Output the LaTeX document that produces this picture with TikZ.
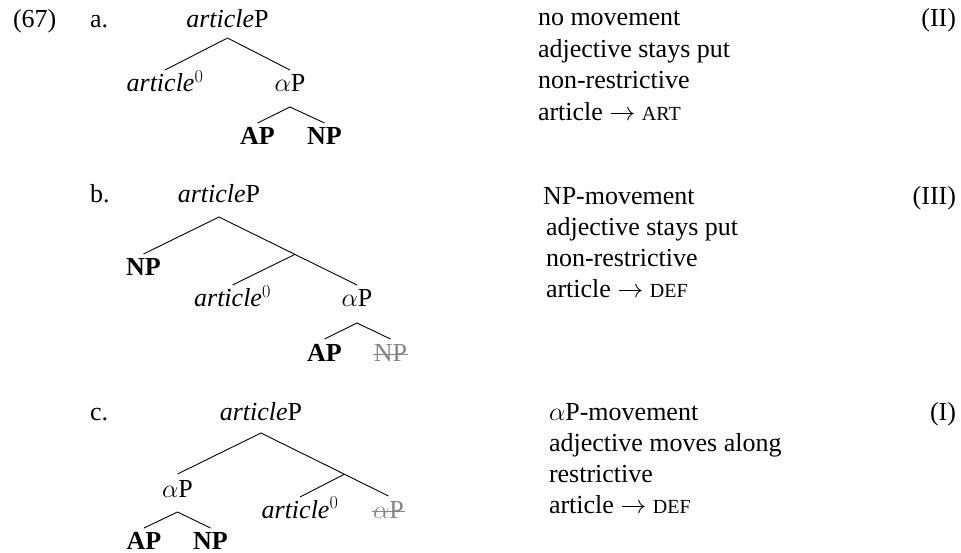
\RequirePackage{fix-cm}
\documentclass[tikz,border=0pt]{standalone}
\usepackage{fontspec}
\setmainfont{Liberation Serif}
\usetikzlibrary{calc}
\newcommand{\fsc}[1]{{\fontsize{20}{20}\selectfont #1}}
\newcommand{\artzero}{\textit{article}$^{0}$}
\newcommand{\artP}{\textit{article}P}
\tikzset{
  txt/.style={inner sep=0pt, outer sep=0pt, anchor=base west, font=\fontsize{26}{31}\selectfont},
  lab/.style={txt, anchor=base},
  gone/.style={lab, text=black!48},
  br/.style={line width=0.9pt},
  strike/.style={line width=0.9pt, draw=black!48}
}
\begin{document}
\begin{tikzpicture}[x=1pt,y=-1pt]
\useasboundingbox (0,0) rectangle (961,553);

% ---------- labels ----------
\node[txt] (ex) at (13,28) {(67)};
\node[txt] (la) at (90,28) {a.};
\node[txt] (lb) at (90,203) {b.};
\node[txt] (lc) at (90,420) {c.};

% ---------- tree a ----------
\node[lab] (aTop) at (227.5,28) {\artP};
\node[lab] (aArt) at (165,92) {\artzero};
\node[lab] (aAlpha) at (290,92) {$\alpha$P};
\node[lab,font=\fontsize{26}{31}\selectfont\bfseries] (aAP) at (257.5,145) {AP};
\node[lab,font=\fontsize{26}{31}\selectfont\bfseries] (aNP) at (324.5,145) {NP};
\draw[br] ([yshift=-10pt]aTop.base) -- ([yshift=22pt]aArt.base);
\draw[br] ([yshift=-10pt]aTop.base) -- ([yshift=22pt]aAlpha.base);
\draw[br] ([yshift=-15pt]aAlpha.base) -- ([yshift=22pt]aAP.base);
\draw[br] ([yshift=-15pt]aAlpha.base) -- ([yshift=22pt]aNP.base);

% ---------- tree b ----------
\node[lab] (bTop) at (219,203) {\artP};
\node[lab,font=\fontsize{26}{31}\selectfont\bfseries] (bNP) at (143.5,276) {NP};
\node[lab] (bArt) at (232.5,307) {\artzero};
\node[lab] (bAlpha) at (357,307) {$\alpha$P};
\node[lab,font=\fontsize{26}{31}\selectfont\bfseries] (bAP) at (324.5,361) {AP};
\node[gone] (bNPg) at (390.5,361) {NP};
\draw[strike] ([yshift=7pt,xshift=-1pt]bNPg.base west) -- ([yshift=7pt,xshift=1pt]bNPg.base east);
\coordinate (bT) at ([yshift=-14pt]bTop.base);
\coordinate (bR) at ([yshift=22pt]bAlpha.base);
\coordinate (bJ) at ($(bT)!0.55!(bR)$);
\draw[br] (bT) -- ([yshift=22pt]bNP.base);
\draw[br] (bT) -- (bR);
\draw[br] (bJ) -- ([yshift=22pt]bArt.base);
\draw[br] ([yshift=-16pt]bAlpha.base) -- ([yshift=22pt]bAP.base);
\draw[br] ([yshift=-16pt]bAlpha.base) -- ([yshift=22pt]bNPg.base);

% ---------- tree c ----------
\node[lab] (cTop) at (261,420) {\artP};
\node[lab] (cAlpha) at (177.5,497) {$\alpha$P};
\node[lab] (cArt) at (300,518) {\artzero};
\node[gone] (cAlphag) at (388.5,518) {$\alpha$P};
\draw[strike] ([yshift=6.5pt,xshift=-1pt]cAlphag.base west) -- ([yshift=6.5pt,xshift=1pt]cAlphag.base east);
\node[lab,font=\fontsize{26}{31}\selectfont\bfseries] (cAP) at (144,549) {AP};
\node[lab,font=\fontsize{26}{31}\selectfont\bfseries] (cNP) at (210.5,549) {NP};
\coordinate (cT) at ([yshift=-13pt]cTop.base);
\coordinate (cR) at ([yshift=22pt]cAlphag.base);
\coordinate (cJ) at ($(cT)!0.654!(cR)$);
\draw[br] (cT) -- ([yshift=23pt]cAlpha.base);
\draw[br] (cT) -- (cR);
\draw[br] (cJ) -- ([yshift=21pt]cArt.base);
\draw[br] ([yshift=-15pt]cAlpha.base) -- ([yshift=21pt]cAP.base);
\draw[br] ([yshift=-15pt]cAlpha.base) -- ([yshift=21pt]cNP.base);

% ---------- descriptions ----------
\node[txt] (da1) at (538,26) {no movement};
\node[txt] (da2) at (538,57.5) {adjective stays put};
\node[txt] (da3) at (538,89) {non-restrictive};
\node[txt] (da4) at (538,120.5) {article $\rightarrow$ \fsc{ART}};

\node[txt] (db1) at (543,205) {NP-movement};
\node[txt] (db2) at (546,236) {adjective stays put};
\node[txt] (db3) at (546,267) {non-restrictive};
\node[txt] (db4) at (546,298) {article $\rightarrow$ \fsc{DEF}};

\node[txt] (dc1) at (549,420) {$\alpha$P-movement};
\node[txt] (dc2) at (549,451) {adjective moves along};
\node[txt] (dc3) at (549,482) {restrictive};
\node[txt] (dc4) at (549,513) {article $\rightarrow$ \fsc{DEF}};

% ---------- classes ----------
\node[txt,anchor=base east] (ka) at (956,27) {(II)};
\node[txt,anchor=base east] (kb) at (956,205) {(III)};
\node[txt,anchor=base east] (kc) at (956,420) {(I)};
\end{tikzpicture}
\end{document}
